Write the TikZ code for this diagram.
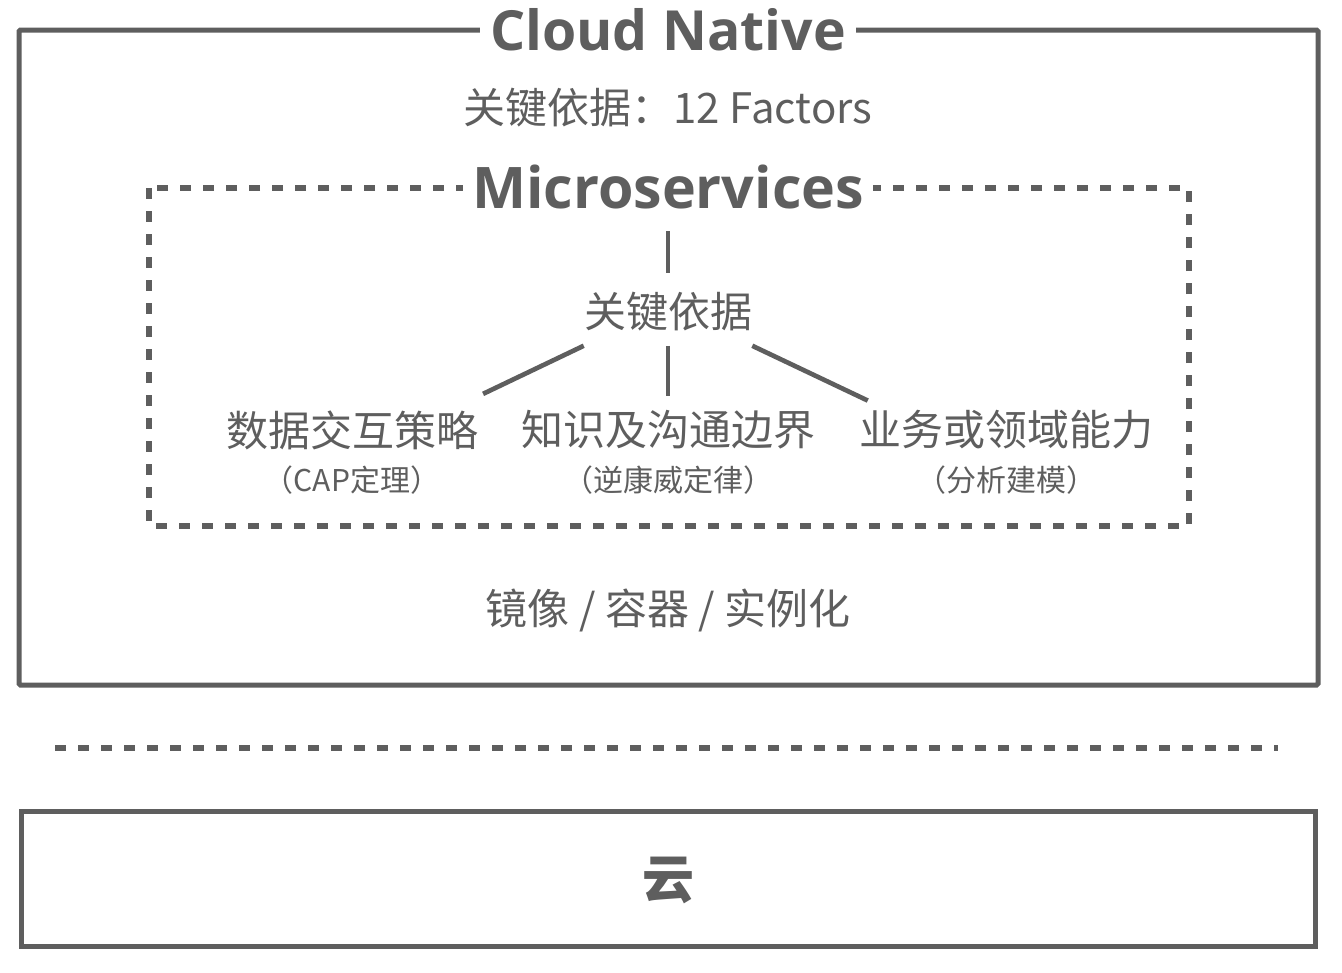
\documentclass[tikz,border=0pt]{standalone}
\usepackage{fontspec}
\setmainfont{Open Sans}
\newfontfamily\cjk{Noto Sans CJK SC}
\definecolor{ink}{RGB}{94,94,94}
\begin{document}
\begin{tikzpicture}[x=0.75pt,y=-0.75pt,
  every node/.style={text=ink, inner sep=0pt},
  frame/.style={draw=ink, line width=3.75pt},
  dashframe/.style={draw=ink, line width=4pt, dash pattern=on 8.25pt off 9pt},
  link/.style={draw=ink, line width=3.5pt},
  title/.style={font=\fontsize{43}{48}\selectfont\bfseries, fill=white, inner xsep=7pt, inner ysep=2pt},
  body/.style={font=\cjk\fontsize{31.5}{36}\selectfont},
  small/.style={font=\cjk\fontsize{22.5}{26}\selectfont},
  item/.style={body, inner xsep=0pt, inner ysep=10.5pt}
]
\useasboundingbox (0,0) rectangle (1342,972);

% outer Cloud Native frame
\draw[frame, rounded corners=1pt] (19,30) rectangle (1318,685);
% inner Microservices dashed frame
\draw[dashframe] (149,188) rectangle (1189,526);

\node[title, font=\fontsize{41.5}{46}\selectfont\bfseries, inner xsep=8pt] (cn) at (668,30) {Cloud Native};
\node[body] (factors) at (668,108) {关键依据：12 Factors};

\node[title] (ms) at (668,187) {Microservices};
\node[item] (kd) at (668,312) {关键依据};

\node[item] (a) at (352,430) {数据交互策略};
\node[item] (b) at (668,430) {知识及沟通边界};
\node[item] (c) at (1006,430) {业务或领域能力};

\node[small] (a2) at (352,480) {（CAP定理）};
\node[small] (b2) at (668,480) {（逆康威定律）};
\node[small] (c2) at (1006,480) {（分析建模）};

\draw[link, shorten <=33pt, shorten >=29.25pt] (ms.center) -- (kd.center);
\draw[link, shorten >=4pt] (kd.south west) -- (a.north east);
\draw[link] (kd.south) -- (b.north);
\draw[link, shorten >=-7.5pt] (kd.south east) -- (c.north west);

\node[body] (img) at (668,610) {镜像 / 容器 / 实例化};

% separator
\draw[dashframe] (55,748) -- (1278,748);

% cloud box
\draw[frame] (21,811) rectangle (1315,946);
\node[font=\cjk\bfseries\fontsize{39}{44}\selectfont] (cloud) at (668,880) {云};
\end{tikzpicture}
\end{document}
